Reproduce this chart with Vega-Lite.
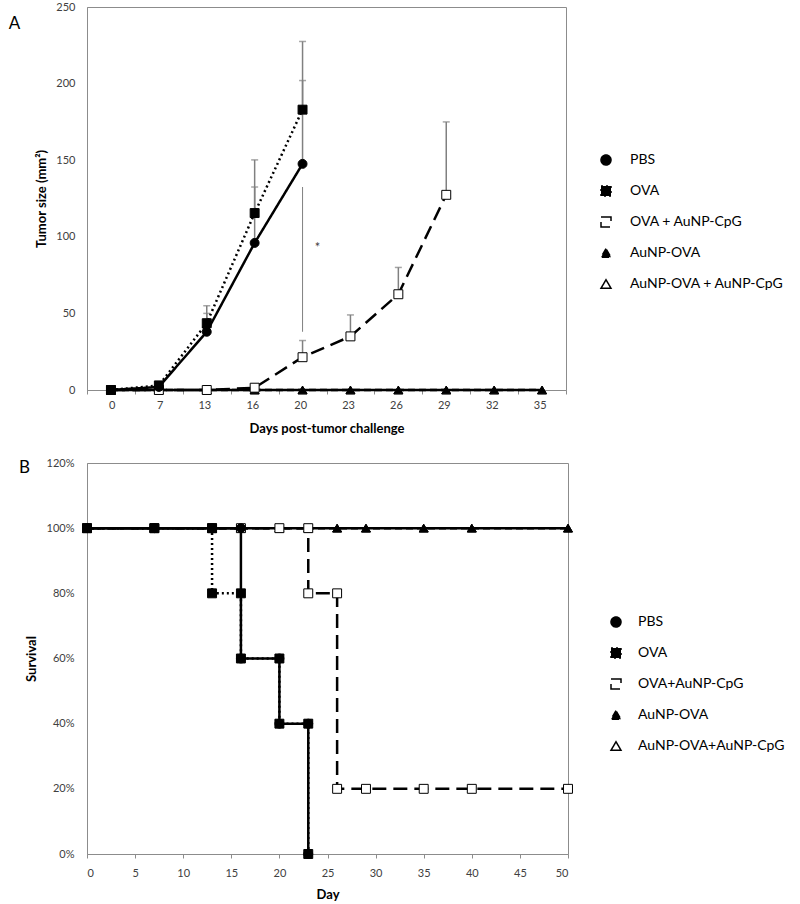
{
  "$schema": "https://vega.github.io/schema/vega-lite/v6.json",
  "padding": {"left": 8, "top": 0, "right": 0, "bottom": 0},
  "spacing": 20,
  "background": "white",
  "config": {
    "font": "Lato",
    "view": {"stroke": "#8c8c8c", "strokeWidth": 1},
    "axis": {"domainColor": "#8c8c8c", "tickColor": "#8c8c8c", "labelColor": "#404040", "labelFont": "Lato", "labelFontSize": 11, "titleFont": "Lato", "titleFontSize": 13, "titleColor": "black", "titleFontWeight": "bold", "grid": false},
    "legend": {"labelFont": "Lato", "labelFontSize": 14, "labelColor": "black", "symbolSize": 100, "symbolStrokeWidth": 1.5, "padding": 0, "rowPadding": 15},
    "title": {"font": "Lato", "fontSize": 17, "fontWeight": "normal", "color": "black"}
  },
  "datasets": {
    "tumor": [
      {"group": "AuNP-OVA + AuNP-CpG", "day": 0, "size": 0},
      {"group": "AuNP-OVA + AuNP-CpG", "day": 7, "size": 0},
      {"group": "AuNP-OVA + AuNP-CpG", "day": 13, "size": 0},
      {"group": "AuNP-OVA + AuNP-CpG", "day": 16, "size": 0},
      {"group": "AuNP-OVA + AuNP-CpG", "day": 20, "size": 0},
      {"group": "AuNP-OVA + AuNP-CpG", "day": 23, "size": 0},
      {"group": "AuNP-OVA + AuNP-CpG", "day": 26, "size": 0},
      {"group": "AuNP-OVA + AuNP-CpG", "day": 29, "size": 0},
      {"group": "AuNP-OVA + AuNP-CpG", "day": 32, "size": 0},
      {"group": "AuNP-OVA + AuNP-CpG", "day": 35, "size": 0},
      {"group": "AuNP-OVA", "day": 0, "size": 0},
      {"group": "AuNP-OVA", "day": 7, "size": 0},
      {"group": "AuNP-OVA", "day": 13, "size": 0},
      {"group": "AuNP-OVA", "day": 16, "size": 0},
      {"group": "AuNP-OVA", "day": 20, "size": 0},
      {"group": "AuNP-OVA", "day": 23, "size": 0},
      {"group": "AuNP-OVA", "day": 26, "size": 0},
      {"group": "AuNP-OVA", "day": 29, "size": 0},
      {"group": "AuNP-OVA", "day": 32, "size": 0},
      {"group": "AuNP-OVA", "day": 35, "size": 0},
      {"group": "OVA + AuNP-CpG", "day": 0, "size": 0},
      {"group": "OVA + AuNP-CpG", "day": 7, "size": 0},
      {"group": "OVA + AuNP-CpG", "day": 13, "size": 0},
      {"group": "OVA + AuNP-CpG", "day": 16, "size": 1.5},
      {"group": "OVA + AuNP-CpG", "day": 20, "size": 21.4, "upper": 32.3},
      {"group": "OVA + AuNP-CpG", "day": 23, "size": 35, "upper": 49},
      {"group": "OVA + AuNP-CpG", "day": 26, "size": 62.5, "upper": 80},
      {"group": "OVA + AuNP-CpG", "day": 29, "size": 127.4, "upper": 175},
      {"group": "PBS", "day": 0, "size": 0},
      {"group": "PBS", "day": 7, "size": 2},
      {"group": "PBS", "day": 13, "size": 38, "upper": 50},
      {"group": "PBS", "day": 16, "size": 96, "upper": 132.5},
      {"group": "PBS", "day": 20, "size": 147.6, "upper": 202},
      {"group": "OVA", "day": 0, "size": 0},
      {"group": "OVA", "day": 7, "size": 3},
      {"group": "OVA", "day": 13, "size": 43.6, "upper": 55},
      {"group": "OVA", "day": 16, "size": 115.5, "upper": 150.2},
      {"group": "OVA", "day": 20, "size": 183, "upper": 227.5}
    ],
    "sig": [
      {"day": 20, "low": 38, "high": 132.5, "star": 92.5, "mark": "*"}
    ],
    "survival": [
      {"group": "AuNP-OVA+AuNP-CpG", "seq": 1, "day": 0, "surv": 1},
      {"group": "AuNP-OVA+AuNP-CpG", "seq": 2, "day": 7, "surv": 1},
      {"group": "AuNP-OVA+AuNP-CpG", "seq": 3, "day": 13, "surv": 1},
      {"group": "AuNP-OVA+AuNP-CpG", "seq": 4, "day": 16, "surv": 1},
      {"group": "AuNP-OVA+AuNP-CpG", "seq": 5, "day": 20, "surv": 1},
      {"group": "AuNP-OVA+AuNP-CpG", "seq": 6, "day": 23, "surv": 1},
      {"group": "AuNP-OVA+AuNP-CpG", "seq": 7, "day": 26, "surv": 1},
      {"group": "AuNP-OVA+AuNP-CpG", "seq": 8, "day": 29, "surv": 1},
      {"group": "AuNP-OVA+AuNP-CpG", "seq": 9, "day": 35, "surv": 1},
      {"group": "AuNP-OVA+AuNP-CpG", "seq": 10, "day": 40, "surv": 1},
      {"group": "AuNP-OVA+AuNP-CpG", "seq": 11, "day": 50, "surv": 1},
      {"group": "AuNP-OVA", "seq": 1, "day": 0, "surv": 1},
      {"group": "AuNP-OVA", "seq": 2, "day": 7, "surv": 1},
      {"group": "AuNP-OVA", "seq": 3, "day": 13, "surv": 1},
      {"group": "AuNP-OVA", "seq": 4, "day": 16, "surv": 1},
      {"group": "AuNP-OVA", "seq": 5, "day": 20, "surv": 1},
      {"group": "AuNP-OVA", "seq": 6, "day": 23, "surv": 1},
      {"group": "AuNP-OVA", "seq": 7, "day": 26, "surv": 1},
      {"group": "AuNP-OVA", "seq": 8, "day": 29, "surv": 1},
      {"group": "AuNP-OVA", "seq": 9, "day": 35, "surv": 1},
      {"group": "AuNP-OVA", "seq": 10, "day": 40, "surv": 1},
      {"group": "AuNP-OVA", "seq": 11, "day": 50, "surv": 1},
      {"group": "OVA+AuNP-CpG", "seq": 1, "day": 0, "surv": 1},
      {"group": "OVA+AuNP-CpG", "seq": 2, "day": 7, "surv": 1},
      {"group": "OVA+AuNP-CpG", "seq": 3, "day": 13, "surv": 1},
      {"group": "OVA+AuNP-CpG", "seq": 4, "day": 16, "surv": 1},
      {"group": "OVA+AuNP-CpG", "seq": 5, "day": 20, "surv": 1},
      {"group": "OVA+AuNP-CpG", "seq": 6, "day": 23, "surv": 1},
      {"group": "OVA+AuNP-CpG", "seq": 7, "day": 23, "surv": 0.8},
      {"group": "OVA+AuNP-CpG", "seq": 8, "day": 26, "surv": 0.8},
      {"group": "OVA+AuNP-CpG", "seq": 9, "day": 26, "surv": 0.2},
      {"group": "OVA+AuNP-CpG", "seq": 10, "day": 29, "surv": 0.2},
      {"group": "OVA+AuNP-CpG", "seq": 11, "day": 35, "surv": 0.2},
      {"group": "OVA+AuNP-CpG", "seq": 12, "day": 40, "surv": 0.2},
      {"group": "OVA+AuNP-CpG", "seq": 13, "day": 50, "surv": 0.2},
      {"group": "PBS", "seq": 1, "day": 0, "surv": 1},
      {"group": "PBS", "seq": 2, "day": 7, "surv": 1},
      {"group": "PBS", "seq": 3, "day": 13, "surv": 1},
      {"group": "PBS", "seq": 4, "day": 16, "surv": 1},
      {"group": "PBS", "seq": 5, "day": 16, "surv": 0.6},
      {"group": "PBS", "seq": 6, "day": 20, "surv": 0.6},
      {"group": "PBS", "seq": 7, "day": 20, "surv": 0.4},
      {"group": "PBS", "seq": 8, "day": 23, "surv": 0.4},
      {"group": "PBS", "seq": 9, "day": 23, "surv": 0},
      {"group": "OVA", "seq": 1, "day": 0, "surv": 1},
      {"group": "OVA", "seq": 2, "day": 7, "surv": 1},
      {"group": "OVA", "seq": 3, "day": 13, "surv": 1},
      {"group": "OVA", "seq": 4, "day": 13, "surv": 0.8},
      {"group": "OVA", "seq": 5, "day": 16, "surv": 0.8},
      {"group": "OVA", "seq": 6, "day": 16, "surv": 0.6},
      {"group": "OVA", "seq": 7, "day": 20, "surv": 0.6},
      {"group": "OVA", "seq": 8, "day": 20, "surv": 0.4},
      {"group": "OVA", "seq": 9, "day": 23, "surv": 0.4},
      {"group": "OVA", "seq": 10, "day": 23, "surv": 0}
    ]
  },
  "resolve": {"scale": {"shape": "independent", "fill": "independent", "strokeDash": "independent", "x": "independent", "y": "independent"}, "legend": {"shape": "independent", "fill": "independent", "strokeDash": "independent"}},
  "vconcat": [
    {
      "width": 479,
      "height": 383,
      "title": {"text": "A", "anchor": "start", "frame": "bounds", "dx": -27, "dy": 32, "offset": 0},
      "layer": [
        {
          "data": {"name": "sig"},
          "mark": {"type": "rule", "color": "#808080", "strokeWidth": 1},
          "encoding": {
            "x": {"field": "day", "type": "ordinal"},
            "y": {"field": "low", "type": "quantitative"},
            "y2": {"field": "high"}
          }
        },
        {
          "data": {"name": "sig"},
          "mark": {"type": "text", "dx": 15, "fontSize": 13, "color": "#404040", "font": "Lato"},
          "encoding": {
            "x": {"field": "day", "type": "ordinal"},
            "y": {"field": "star", "type": "quantitative"},
            "text": {"field": "mark"}
          }
        },
        {
          "data": {"name": "tumor"},
          "transform": [{"filter": "isValid(datum.upper)"}],
          "mark": {"type": "rule", "color": "#808080", "strokeWidth": 1.5},
          "encoding": {
            "x": {"field": "day", "type": "ordinal"},
            "y": {"field": "size", "type": "quantitative"},
            "y2": {"field": "upper"}
          }
        },
        {
          "data": {"name": "tumor"},
          "transform": [{"filter": "isValid(datum.upper)"}],
          "mark": {"type": "tick", "color": "#808080", "thickness": 1.5, "size": 7, "orient": "horizontal"},
          "encoding": {
            "x": {"field": "day", "type": "ordinal"},
            "y": {"field": "upper", "type": "quantitative"}
          }
        },
        {
          "data": {"name": "tumor"},
          "mark": {"type": "line", "color": "black", "strokeWidth": 2.5},
          "encoding": {
            "x": {"field": "day", "type": "ordinal"},
            "y": {"field": "size", "type": "quantitative"},
            "strokeDash": {"field": "group", "type": "nominal",
              "scale": {"domain": ["PBS", "OVA", "OVA + AuNP-CpG", "AuNP-OVA", "AuNP-OVA + AuNP-CpG"], "range": [[1, 0], [2, 3], [14, 7], [7, 4], [1, 0]]},
              "legend": {"title": null, "orient": "none", "direction": "vertical", "legendX": 512, "legendY": 146, "labelOffset": 17}}
          }
        },
        {
          "data": {"name": "tumor"},
          "mark": {"type": "point", "filled": true, "stroke": "black", "strokeWidth": 1, "opacity": 1, "size": 80},
          "encoding": {
            "x": {"field": "day", "type": "ordinal",
              "scale": {"type": "band", "domain": [0, 7, 13, 16, 20, 23, 26, 29, 32, 35], "paddingInner": 0, "paddingOuter": 0},
              "axis": {"title": "Days post-tumor challenge", "labelAngle": 0, "tickBand": "extent", "tickSize": 4, "labelPadding": 11, "titlePadding": 12, "labelOffset": 4}},
            "y": {"field": "size", "type": "quantitative",
              "scale": {"domain": [0, 250], "nice": false},
              "axis": {"title": "Tumor size (mm²)", "values": [0, 50, 100, 150, 200, 250], "ticks": false, "labelPadding": 12, "titlePadding": 7}},
            "shape": {"field": "group", "type": "nominal",
              "scale": {"domain": ["PBS", "OVA", "OVA + AuNP-CpG", "AuNP-OVA", "AuNP-OVA + AuNP-CpG"], "range": ["circle", "square", "square", "triangle-up", "triangle-up"]},
              "legend": {"title": null, "orient": "none", "direction": "vertical", "legendX": 512, "legendY": 146, "labelOffset": 17}},
            "fill": {"field": "group", "type": "nominal",
              "scale": {"domain": ["PBS", "OVA", "OVA + AuNP-CpG", "AuNP-OVA", "AuNP-OVA + AuNP-CpG"], "range": ["black", "black", "white", "black", "white"]},
              "legend": {"title": null, "orient": "none", "direction": "vertical", "legendX": 512, "legendY": 146, "labelOffset": 17}}
          }
        }
      ]
    },
    {
      "width": 481,
      "height": 391,
      "title": {"text": "B", "anchor": "start", "frame": "bounds", "dx": -6, "dy": 20, "offset": 0},
      "data": {"name": "survival"},
      "layer": [
        {
          "mark": {"type": "line", "color": "black", "strokeWidth": 2.5},
          "encoding": {
            "x": {"field": "day", "type": "quantitative"},
            "y": {"field": "surv", "type": "quantitative"},
            "order": {"field": "seq", "type": "quantitative"},
            "strokeDash": {"field": "group", "type": "nominal",
              "scale": {"domain": ["PBS", "OVA", "OVA+AuNP-CpG", "AuNP-OVA", "AuNP-OVA+AuNP-CpG"], "range": [[1, 0], [2, 3], [14, 7], [7, 4], [1, 0]]},
              "legend": {"title": null, "orient": "none", "direction": "vertical", "legendX": 522, "legendY": 152, "labelOffset": 15}}
          }
        },
        {
          "mark": {"type": "point", "filled": true, "stroke": "black", "strokeWidth": 1, "opacity": 1, "size": 80},
          "encoding": {
            "x": {"field": "day", "type": "quantitative",
              "scale": {"domain": [0, 50], "nice": false},
              "axis": {"title": "Day", "values": [0, 5, 10, 15, 20, 25, 30, 35, 40, 45, 50], "tickSize": 4, "labelPadding": 9, "titlePadding": 10}},
            "y": {"field": "surv", "type": "quantitative",
              "scale": {"domain": [0, 1.2], "nice": false},
              "axis": {"title": "Survival", "values": [0, 0.2, 0.4, 0.6, 0.8, 1, 1.2], "format": ".0%", "ticks": false, "labelPadding": 13, "titlePadding": 8}},
            "shape": {"field": "group", "type": "nominal",
              "scale": {"domain": ["PBS", "OVA", "OVA+AuNP-CpG", "AuNP-OVA", "AuNP-OVA+AuNP-CpG"], "range": ["circle", "square", "square", "triangle-up", "triangle-up"]},
              "legend": {"title": null, "orient": "none", "direction": "vertical", "legendX": 522, "legendY": 152, "labelOffset": 15}},
            "fill": {"field": "group", "type": "nominal",
              "scale": {"domain": ["PBS", "OVA", "OVA+AuNP-CpG", "AuNP-OVA", "AuNP-OVA+AuNP-CpG"], "range": ["black", "black", "white", "black", "white"]},
              "legend": {"title": null, "orient": "none", "direction": "vertical", "legendX": 522, "legendY": 152, "labelOffset": 15}}
          }
        }
      ]
    }
  ]
}
